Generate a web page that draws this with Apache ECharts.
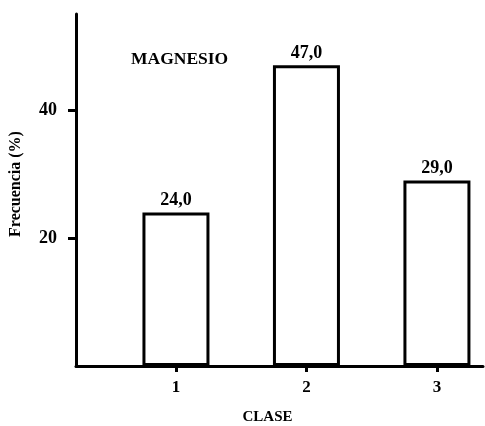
<!DOCTYPE html>
<html>
<head>
<meta charset="utf-8">
<script src="https://cdn.jsdelivr.net/npm/echarts@6/dist/echarts.min.js"></script>
<style>
  html, body { margin: 0; padding: 0; background: #fff; }
  #chart { width: 485px; height: 426px; }
</style>
</head>
<body>
<div id="chart"></div>
<script>
// datos
const clases = [1, 2, 3];
const frecuencias = [24.0, 47.0, 29.0];
const yTicks = [20, 40];
const xTicks = [1, 2, 3];

const font = "'Liberation Serif', 'Times New Roman', serif";
const chart = echarts.init(document.getElementById("chart"));

const option = {
  backgroundColor: "#fff",
  animation: false,
  textStyle: { fontFamily: font, color: "#000" },
  grid: { left: 76, right: 2, top: 14, bottom: 60, outerBoundsMode: "none" },
  // titulo dentro del grafico
  graphic: [
    {
      type: "text",
      left: 131,
      top: 50,
      style: {
        text: "MAGNESIO",
        font: "bold 17.5px " + font,
        fill: "#000",
      },
    },
  ],
  xAxis: {
    type: "value",
    min: 0.234,
    max: 3.353,
    name: "CLASE",
    nameLocation: "middle",
    nameGap: 44,
    nameTextStyle: {
      fontFamily: font,
      fontWeight: "bold",
      fontSize: 15,
      color: "#000",
      padding: [0, 24, 0, 0],
    },
    axisLine: { lineStyle: { color: "#000", width: 3 } },
    axisTick: {
      show: true,
      customValues: xTicks,
      length: 6,
      lineStyle: { color: "#000", width: 3 },
    },
    axisLabel: {
      customValues: xTicks,
      margin: 13,
      fontFamily: font,
      fontWeight: "bold",
      fontSize: 17,
      color: "#000",
    },
    splitLine: { show: false },
  },
  yAxis: {
    type: "value",
    min: 0,
    max: 55,
    name: "Frecuencia (%)",
    nameLocation: "middle",
    nameGap: 52,
    nameTextStyle: {
      fontFamily: font,
      fontWeight: "bold",
      fontSize: 16,
      color: "#000",
      padding: [0, 0, 0, 12],
    },
    axisLine: { show: true, lineStyle: { color: "#000", width: 3 } },
    axisTick: {
      show: true,
      customValues: yTicks,
      length: 8,
      lineStyle: { color: "#000", width: 3 },
    },
    axisLabel: {
      customValues: yTicks,
      margin: 19,
      fontFamily: font,
      fontWeight: "bold",
      fontSize: 18,
      color: "#000",
    },
    splitLine: { show: false },
  },
  series: [
    {
      type: "bar",
      barWidth: 67,
      data: clases.map((c, i) => [c, frecuencias[i]]),
      itemStyle: { color: "#fff", borderColor: "#000", borderWidth: 3 },
      label: {
        show: true,
        position: "top",
        distance: 3,
        fontFamily: font,
        fontWeight: "bold",
        fontSize: 18,
        color: "#000",
        formatter: (p) => p.value[1].toFixed(1).replace(".", ","),
      },
    },
  ],
};

chart.setOption(option);
</script>
</body>
</html>
